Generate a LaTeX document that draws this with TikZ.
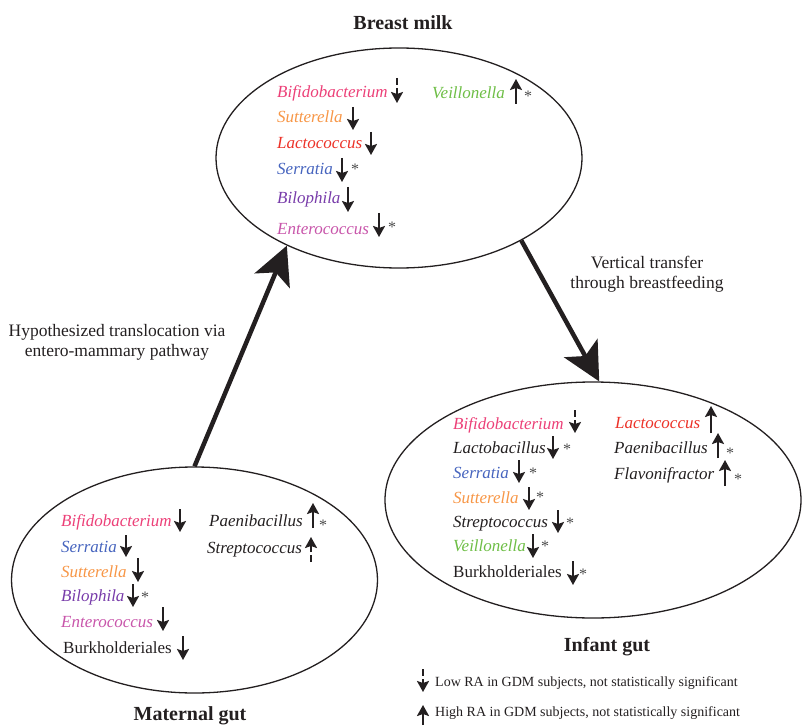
\documentclass[tikz,border=0pt]{standalone}
\usepackage{fontspec}
\setmainfont{Liberation Serif}
\usetikzlibrary{shapes.geometric,arrows.meta}
\definecolor{ink}{RGB}{35,31,32}
\definecolor{bifc}{RGB}{236,64,120}
\definecolor{sutc}{RGB}{247,150,70}
\definecolor{lacc}{RGB}{236,50,40}
\definecolor{serc}{RGB}{70,100,190}
\definecolor{bilc}{RGB}{120,60,170}
\definecolor{entc}{RGB}{200,85,170}
\definecolor{veic}{RGB}{110,190,70}
\definecolor{starc}{RGB}{75,75,75}
\begin{document}
\begin{tikzpicture}[x=1pt,y=-1pt,
  sp/.style={anchor=base west, inner sep=0, font=\fontsize{17}{17}\selectfont\itshape, text=ink},
  spu/.style={anchor=base west, inner sep=0, font=\fontsize{17}{17}\selectfont, text=ink},
  ttl/.style={inner sep=0, font=\fontsize{20}{20}\selectfont\bfseries, text=ink},
  note/.style={inner sep=0, align=center, font=\fontsize{17.5}{20}\selectfont, text=ink},
  legtxt/.style={anchor=west, inner sep=0, font=\fontsize{14}{14}\selectfont, text=ink},
  gut/.style={ellipse, draw=ink, line width=1.3pt, inner sep=0},
  big/.style={draw=ink, line width=4.5pt, -{Stealth[length=38pt,width=38pt,inset=9pt]}},
  sa/.style={draw=ink, line width=2pt, -{Stealth[length=11pt,width=12pt,inset=2pt]}},
  sad/.style={sa, dash pattern=on 7pt off 3pt on 40pt off 0pt},
  sig/.style={anchor=base, inner sep=0, font=\fontsize{16}{16}\selectfont, text=starc}]
\useasboundingbox (0,0) rectangle (802,727);

% ellipses
\node[gut, minimum width=366pt, minimum height=220pt] (milk) at (399,158) {};
\node[gut, minimum width=366pt, minimum height=226pt] (mat) at (194.5,580) {};
\node[gut, minimum width=416pt, minimum height=236pt] (inf) at (593,500) {};

% titles
\node[ttl] (tmilk) at (403,23) {Breast milk};
\node[ttl] (tinf) at (607,647) {Infant gut};
\node[ttl] (tmat) at (190,716) {Maternal gut};

% big arrows
\draw[big] (mat.north) -- (milk.218);
\draw[big] (milk.326) -- (inf.87);
\node[note] (n1) at (117,342) {Hypothesized translocation via\\entero-mammary pathway};
\node[note] (n2) at (647,274) {Vertical transfer\\through breastfeeding};

% Breast milk
\node[sp, text=bifc] (b1) at (277,98) {Bifidobacterium};
\node[sp, text=sutc] (b2) at (277,123) {Sutterella};
\node[sp, text=lacc] (b3) at (277,149) {Lactococcus};
\node[sp, text=serc] (b4) at (277,175) {Serratia};
\node[sp, text=bilc] (b5) at (277,204) {Bilophila};
\node[sp, text=entc] (b6) at (277,234) {Enterococcus};
\node[sp, text=veic] (b7) at (432,99) {Veillonella};
\draw[sad] (397,78) -- (397,103);
\draw[sa] (353,107) -- (353,130);
\draw[sa] (371,132) -- (371,155);
\draw[sa] (342,158) -- (342,182);
\draw[sa] (348,187) -- (348,212);
\draw[sa] (379,213) -- (379,237);
\draw[sa] (516,104) -- (516,79);
\node[sig] (bs1) at (355,175) {*};
\node[sig] (bs2) at (392,233) {*};
\node[sig] (bs3) at (528,102) {*};

% Infant gut
\node[sp, text=bifc] (i1) at (453,429) {Bifidobacterium};
\node[sp] (i2) at (453,453) {Lactobacillus};
\node[sp, text=serc] (i3) at (453,478) {Serratia};
\node[sp, text=sutc] (i4) at (453,503) {Sutterella};
\node[sp] (i5) at (453,527) {Streptococcus};
\node[sp, text=veic] (i6) at (453,551) {Veillonella};
\node[spu] (i7) at (453,577) {Burkholderiales};
\node[sp, text=lacc] (i8) at (615,428) {Lactococcus};
\node[sp] (i9) at (614,453) {Paenibacillus};
\node[sp] (i10) at (614,479) {Flavonifractor};
\draw[sad] (575,410) -- (575,433);
\draw[sa] (553,436) -- (553,459);
\draw[sa] (519,460) -- (519,483);
\draw[sa] (529,487) -- (529,510);
\draw[sa] (558,510) -- (558,533);
\draw[sa] (533,534) -- (533,558);
\draw[sa] (573,561) -- (573,585);
\draw[sa] (711,433) -- (711,406);
\draw[sa] (718,458) -- (718,433);
\draw[sa] (725,486) -- (725,460);
\node[sig] (is1) at (567,454) {*};
\node[sig] (is2) at (533,478) {*};
\node[sig] (is3) at (540,502) {*};
\node[sig] (is4) at (570,528) {*};
\node[sig] (is5) at (545,551) {*};
\node[sig] (is6) at (583,579) {*};
\node[sig] (is7) at (730,458) {*};
\node[sig] (is8) at (738,484) {*};

% Maternal gut
\node[sp, text=bifc] (m1) at (61,526) {Bifidobacterium};
\node[sp, text=serc] (m2) at (61,552) {Serratia};
\node[sp, text=sutc] (m3) at (61,577) {Sutterella};
\node[sp, text=bilc] (m4) at (61,601) {Bilophila};
\node[sp, text=entc] (m5) at (61,627) {Enterococcus};
\node[spu] (m6) at (63,653) {Burkholderiales};
\node[sp] (m7) at (209,526) {Paenibacillus};
\node[sp] (m8) at (207,553) {Streptococcus};
\draw[sa] (180,509) -- (180,532);
\draw[sa] (126,535) -- (126,557);
\draw[sa] (138,558) -- (138,582);
\draw[sa] (133,584) -- (133,607);
\draw[sa] (163,607) -- (163,631);
\draw[sa] (183,636) -- (183,660);
\draw[sa] (313,528) -- (313,503);
\draw[sad] (311,562) -- (311,537);
\node[sig] (ms1) at (145,602) {*};
\node[sig] (ms2) at (323,530) {*};

% Legend
\draw[sad] (423,669) -- (423,692);
\node[legtxt] (l1) at (435,683) {Low RA in GDM subjects, not statistically significant};
\draw[sad] (423,735) -- (423,705);
\node[legtxt] (l2) at (435,713) {High RA in GDM subjects, not statistically significant};
\end{tikzpicture}
\end{document}
